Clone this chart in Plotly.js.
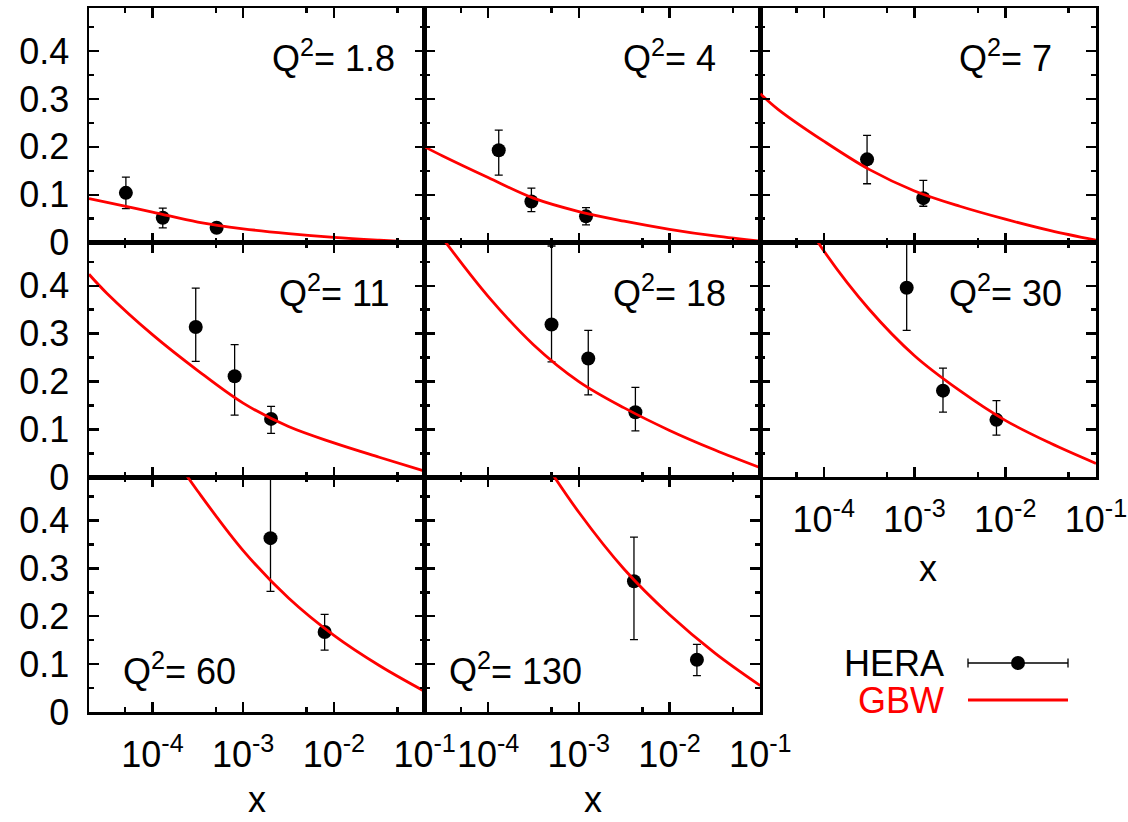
<!DOCTYPE html>
<html><head><meta charset="utf-8">
<script src="https://cdn.plot.ly/plotly-3.0.1.min.js"></script>
<style>html,body{margin:0;padding:0;background:#fff}</style>
</head><body><div id="chart" style="width:1128px;height:822px"></div>
<script>
// ---- data ----
const q2Labels = ['1.8', '4', '7', '11', '18', '30', '60', '130'];

// HERA points (x, value, upper / lower error)
const heraX1 = [5.1e-5, 1.3e-4, 5.1e-4], heraY1 = [0.104, 0.052, 0.031], heraUp1 = [0.033, 0.020, 0.008], heraDn1 = [0.033, 0.021, 0.008];
const heraX2 = [1.31e-4, 3.0e-4, 1.2e-3], heraY2 = [0.193, 0.086, 0.055], heraUp2 = [0.042, 0.028, 0.018], heraDn2 = [0.052, 0.021, 0.018];
const heraX3 = [3.0e-4, 1.25e-3], heraY3 = [0.174, 0.093], heraUp3 = [0.050, 0.037], heraDn3 = [0.051, 0.017];
const heraX4 = [3.0e-4, 8.05e-4, 2.03e-3], heraY4 = [0.314, 0.211, 0.122], heraUp4 = [0.081, 0.066, 0.026], heraDn4 = [0.072, 0.081, 0.030];
const heraX5 = [5.0e-4, 1.27e-3, 4.2e-3], heraY5 = [0.319, 0.248, 0.136], heraUp5 = [0.164, 0.059, 0.052], heraDn5 = [0.078, 0.076, 0.039];
const heraX6 = [8.2e-4, 2.06e-3, 8.0e-3], heraY6 = [0.396, 0.181, 0.120], heraUp6 = [0.120, 0.047, 0.040], heraDn6 = [0.089, 0.045, 0.032];
const heraX7 = [2.0e-3, 7.9e-3], heraY7 = [0.363, 0.167], heraUp7 = [0.140, 0.037], heraDn7 = [0.111, 0.038];
const heraX8 = [4.05e-3, 2.0e-2], heraY8 = [0.273, 0.109], heraUp8 = [0.092, 0.032], heraDn8 = [0.122, 0.033];

// GBW curves (values read at half-decade steps)
const gbwX1 = [2e-5, 3.16e-5, 1e-4, 3.16e-4, 1e-3, 3.16e-3, 1e-2, 3.16e-2, 1e-1];
const gbwY1 = [0.092, 0.084, 0.064, 0.043, 0.029, 0.019, 0.011, 0.005, 0.0];
const gbwX2 = [2e-5, 3.16e-5, 1e-4, 3.16e-4, 1e-3, 3.16e-3, 1e-2, 3.16e-2, 1e-1];
const gbwY2 = [0.200, 0.181, 0.136, 0.093, 0.065, 0.045, 0.028, 0.014, 0.003];
const gbwX3 = [2e-5, 3.16e-5, 1e-4, 3.16e-4, 1e-3, 3.16e-3, 1e-2, 3.16e-2, 1e-1];
const gbwY3 = [0.311, 0.278, 0.212, 0.153, 0.108, 0.076, 0.049, 0.025, 0.005];
const gbwX4 = [2e-5, 3.16e-5, 1e-4, 3.16e-4, 1e-3, 3.16e-3, 1e-2, 3.16e-2, 1e-1];
const gbwY4 = [0.424, 0.384, 0.298, 0.223, 0.155, 0.106, 0.072, 0.042, 0.013];
const gbwX5 = [3.16e-5, 1e-4, 3.16e-4, 1e-3, 3.16e-3, 1e-2, 3.16e-2, 1e-1];
const gbwY5 = [0.499, 0.378, 0.277, 0.200, 0.145, 0.098, 0.057, 0.020];
const gbwX6 = [5.6e-5, 1e-4, 3.16e-4, 1e-3, 3.16e-3, 1e-2, 3.16e-2, 1e-1];
const gbwY6 = [0.55, 0.473, 0.351, 0.254, 0.181, 0.119, 0.071, 0.029];
const gbwX7 = [1.78e-4, 3.16e-4, 1e-3, 3.16e-3, 1e-2, 3.16e-2, 1e-1];
const gbwY7 = [0.529, 0.461, 0.337, 0.238, 0.160, 0.097, 0.043];
const gbwX8 = [3.16e-4, 1e-3, 3.16e-3, 1e-2, 3.16e-2, 1e-1];
const gbwY8 = [0.557, 0.417, 0.298, 0.203, 0.123, 0.055];

// ticks
const xTickVals = [1e-4, 1e-3, 1e-2, 1e-1];
const xTickText = ['10<sup>-4</sup>', '10<sup>-3</sup>', '10<sup>-2</sup>', '10<sup>-1</sup>'];
const xMinorVals = [5e-5, 5e-4, 5e-3, 5e-2];
const yTickVals = [0, 0.1, 0.2, 0.3, 0.4];
const yTickText = ['0', '0.1', '0.2', '0.3', '0.4'];
const yMinorVals = [0.05, 0.15, 0.25, 0.35, 0.45];

// ---- assembly ----
const heraX = [heraX1, heraX2, heraX3, heraX4, heraX5, heraX6, heraX7, heraX8];
const heraY = [heraY1, heraY2, heraY3, heraY4, heraY5, heraY6, heraY7, heraY8];
const heraUp = [heraUp1, heraUp2, heraUp3, heraUp4, heraUp5, heraUp6, heraUp7, heraUp8];
const heraDn = [heraDn1, heraDn2, heraDn3, heraDn4, heraDn5, heraDn6, heraDn7, heraDn8];
const gbwX = [gbwX1, gbwX2, gbwX3, gbwX4, gbwX5, gbwX6, gbwX7, gbwX8];
const gbwY = [gbwY1, gbwY2, gbwY3, gbwY4, gbwY5, gbwY6, gbwY7, gbwY8];

const W = 1128, H = 822;
const M = {l: 89, r: 32, t: 8, b: 110, pad: 0};
const PW = W - M.l - M.r, PH = H - M.t - M.b;
const px2x = p => (p - M.l) / PW;
const px2y = p => 1 - (p - M.t) / PH;

const FONT = 'Liberation Sans, Arial, Helvetica, sans-serif';
const FS = 36;

const traces = [];
const layout = {
  width: W, height: H, margin: M, showlegend: false,
  paper_bgcolor: '#fff', plot_bgcolor: '#fff',
  font: {family: FONT, size: FS, color: '#000'},
  annotations: [], shapes: []
};

for (let i = 0; i < 8; i++) {
  const r = Math.floor(i / 3), c = i % 3;
  const sfx = i === 0 ? '' : String(i + 1);
  traces.push({
    type: 'scatter', mode: 'markers', name: 'HERA',
    x: heraX[i], y: heraY[i], xaxis: 'x' + sfx, yaxis: 'y' + sfx,
    marker: {color: '#000', size: 14},
    error_y: {type: 'data', symmetric: false, array: heraUp[i], arrayminus: heraDn[i],
              color: '#000', thickness: 1.3, width: 4}
  });
  traces.push({
    type: 'scatter', mode: 'lines', name: 'GBW',
    x: gbwX[i], y: gbwY[i], xaxis: 'x' + sfx, yaxis: 'y' + sfx,
    line: {color: '#ff0000', width: 2.8, shape: 'spline', smoothing: 1}
  });
  const showX = (i === 5 || i === 6 || i === 7);
  layout['xaxis' + sfx] = {
    domain: [c / 3, (c + 1) / 3], anchor: 'y' + sfx, type: 'log',
    range: [Math.log10(2e-5), -1],
    tickmode: 'array', tickvals: xTickVals, ticktext: xTickText,
    showticklabels: showX, tickfont: {size: FS, family: FONT, color: '#000'},
    ticklabelstandoff: 9,
    ticks: 'inside', ticklen: 10, tickwidth: 2.5, tickcolor: '#000',
    minor: {tickmode: 'array', tickvals: xMinorVals, ticks: 'inside', ticklen: 5, tickwidth: 2.5, tickcolor: '#000'},
    showline: true, linewidth: 2.5, linecolor: '#000', mirror: 'ticks',
    showgrid: false, zeroline: false, fixedrange: true
  };
  layout['yaxis' + sfx] = {
    domain: [1 - (r + 1) / 3, 1 - r / 3], anchor: 'x' + sfx,
    range: [0, 0.49],
    tickmode: 'array', tickvals: yTickVals, ticktext: yTickText,
    showticklabels: c === 0, tickfont: {size: FS, family: FONT, color: '#000'},
    ticklabelstandoff: 10,
    ticks: 'inside', ticklen: 10, tickwidth: 2.5, tickcolor: '#000',
    minor: {tickmode: 'array', tickvals: yMinorVals, ticks: 'inside', ticklen: 5, tickwidth: 2.5, tickcolor: '#000'},
    showline: true, linewidth: 2.5, linecolor: '#000', mirror: 'ticks',
    showgrid: false, zeroline: false, fixedrange: true
  };
  const bottomLabel = r === 2;
  layout.annotations.push({
    xref: 'x' + sfx, yref: 'y' + sfx,
    x: bottomLabel ? Math.log10(2e-4) : -2, y: bottomLabel ? 0.09 : 0.39,
    xanchor: 'center', yanchor: 'middle', showarrow: false,
    text: 'Q<sup>2</sup>= ' + q2Labels[i], font: {size: FS, family: FONT, color: '#000'}
  });
  if (showX) {
    layout.annotations.push({
      xref: 'paper', yref: 'paper',
      x: (c + 0.5) / 3, y: r === 2 ? px2y(822) : px2y(568),
      xanchor: 'center', yanchor: r === 2 ? 'bottom' : 'middle', showarrow: false,
      text: 'x', font: {size: FS, family: FONT, color: '#000'}
    });
  }
}

// custom legend (text left, sample right)
layout.annotations.push({xref: 'paper', yref: 'paper', x: px2x(946), y: px2y(663), xanchor: 'right', yanchor: 'middle',
  showarrow: false, text: 'HERA', font: {size: FS, family: FONT, color: '#000'}});
layout.annotations.push({xref: 'paper', yref: 'paper', x: px2x(946), y: px2y(700), xanchor: 'right', yanchor: 'middle',
  showarrow: false, text: 'GBW', font: {size: FS, family: FONT, color: '#ff0000'}});
layout.shapes.push(
  {type: 'line', xref: 'paper', yref: 'paper', x0: px2x(968), x1: px2x(1068), y0: px2y(663), y1: px2y(663), line: {color: '#000', width: 1.3}},
  {type: 'line', xref: 'paper', yref: 'paper', x0: px2x(968), x1: px2x(968), y0: px2y(658.5), y1: px2y(667.5), line: {color: '#000', width: 1.3}},
  {type: 'line', xref: 'paper', yref: 'paper', x0: px2x(1068), x1: px2x(1068), y0: px2y(658.5), y1: px2y(667.5), line: {color: '#000', width: 1.3}},
  {type: 'circle', xref: 'paper', yref: 'paper', x0: px2x(1011), x1: px2x(1025), y0: px2y(656), y1: px2y(670), fillcolor: '#000', line: {color: '#000', width: 0}},
  {type: 'line', xref: 'paper', yref: 'paper', x0: px2x(968), x1: px2x(1068), y0: px2y(700), y1: px2y(700), line: {color: '#ff0000', width: 2.8}}
);

Plotly.newPlot('chart', traces, layout, {staticPlot: true, displayModeBar: false});
</script>
</body></html>
